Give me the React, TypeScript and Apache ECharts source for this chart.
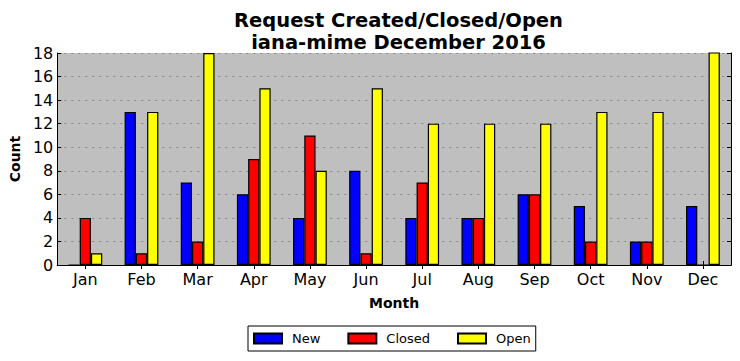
import React, { useEffect, useRef } from "react";
import * as echarts from "echarts";

const months = ["Jan", "Feb", "Mar", "Apr", "May", "Jun", "Jul", "Aug", "Sep", "Oct", "Nov", "Dec"];
const newVals = [0, 13, 7, 6, 4, 8, 4, 4, 6, 5, 2, 5];
const closedVals = [4, 1, 2, 9, 11, 1, 7, 4, 6, 2, 2, 0];
const openVals = [1, 13, 18, 15, 8, 15, 12, 12, 12, 13, 13, 20];
const seriesNames = ["New", "Closed", "Open"];
const seriesColors = ["#0000ff", "#ff0000", "#ffff00"];

const FONT = "DejaVu Sans";

export default function App() {
  const ref = useRef<HTMLDivElement>(null);
  useEffect(() => {
    if (!ref.current) return;
    const chart = echarts.init(ref.current, null, { renderer: "svg" });
    const dataSets = [newVals, closedVals, openVals];
    const axisLine = { show: true, lineStyle: { color: "#000", width: 1 } };
    const tick = { show: true, inside: true, length: 4, lineStyle: { color: "#000" } };
    chart.setOption({
      animation: false,
      backgroundColor: "#ffffff",
      textStyle: { fontFamily: FONT },
      title: {
        text: "Request Created/Closed/Open\niana-mime December 2016",
        left: 393.5,
        textAlign: "center",
        top: 4,
        textStyle: { fontFamily: FONT, fontSize: 19.5, fontWeight: "bold", color: "#000", lineHeight: 22 },
      },
      grid: { left: 56, right: 9, top: 53, bottom: 96, containLabel: false, show: true, backgroundColor: "#bfbfbf", borderWidth: 0 },
      legend: {
        data: seriesNames,
        left: 248,
        top: 326,
        orient: "horizontal",
        itemWidth: 28,
        itemHeight: 10,
        itemGap: 27,
        icon: "rect",
        borderColor: "#000",
        borderWidth: 1,
        borderRadius: 0,
        padding: [6, 5, 6, 5],
        textStyle: { fontFamily: FONT, fontSize: 13, color: "#000", padding: [0, 0, 0, 5] },
      },
      xAxis: [
        {
          type: "category",
          data: months,
          name: "Month",
          nameLocation: "middle",
          nameGap: 31,
          nameTextStyle: { fontFamily: FONT, fontSize: 14, fontWeight: "bold", color: "#000" },
          axisLine,
          axisTick: { ...tick, alignWithLabel: true, interval: 0 },
          axisLabel: { fontFamily: FONT, fontSize: 16, color: "#000", margin: 6, interval: 0 },
          splitLine: { show: false },
        },
        {
          type: "category",
          data: months,
          position: "top",
          axisLine,
          axisTick: { ...tick, alignWithLabel: true, interval: 0 },
          axisLabel: { show: false },
          splitLine: { show: false },
        },
      ],
      yAxis: [
        {
          type: "value",
          min: 0,
          max: 18,
          interval: 2,
          name: "Count",
          nameLocation: "middle",
          nameGap: 33,
          nameRotate: 90,
          nameTextStyle: { fontFamily: FONT, fontSize: 14, fontWeight: "bold", color: "#000" },
          axisLine,
          axisTick: tick,
          axisLabel: { fontFamily: FONT, fontSize: 16, color: "#000", margin: 4 },
          splitLine: { show: true, lineStyle: { color: "#8a8a8a", type: [2, 5], width: 1 } },
        },
        {
          type: "value",
          min: 0,
          max: 18,
          interval: 2,
          position: "right",
          axisLine,
          axisTick: tick,
          axisLabel: { show: false },
          splitLine: { show: false },
        },
      ],
      series: seriesNames.map((name, i) => ({
        name,
        type: "bar",
        data: dataSets[i],
        barWidth: 11.25,
        barGap: "0%",
        clip: true,
        itemStyle: { color: seriesColors[i], borderColor: "#000", borderWidth: 1.2 },
      })),
    });
    return () => chart.dispose();
  }, []);
  return <div ref={ref} style={{ width: 740, height: 361, position: "absolute", left: 0, top: 0 }} />;
}
